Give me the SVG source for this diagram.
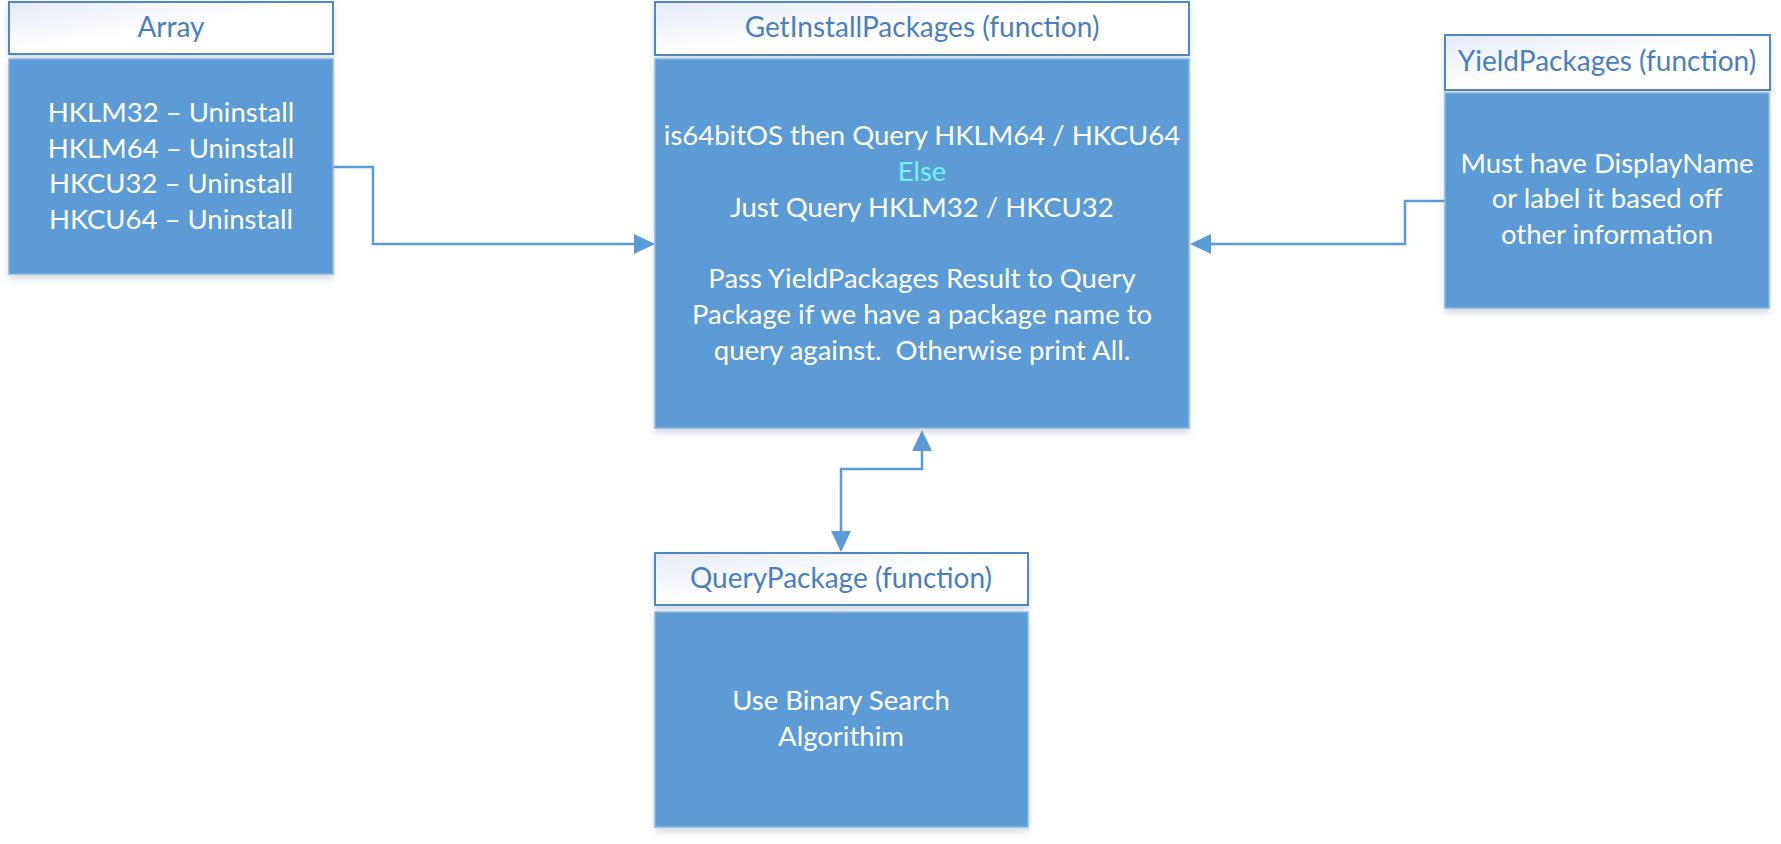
<svg xmlns="http://www.w3.org/2000/svg" width="1781" height="844" viewBox="0 0 1781 844">
<defs>
<linearGradient id="hdrGrad" x1="0" y1="0" x2="1" y2="1">
<stop offset="0" stop-color="#e4eaf5"/>
<stop offset="0.5" stop-color="#ffffff"/>
<stop offset="1" stop-color="#ffffff"/>
</linearGradient>
<filter id="shadow" x="-5%" y="-5%" width="110%" height="115%">
<feDropShadow dx="0" dy="4" stdDeviation="3" flood-color="#6a7c90" flood-opacity="0.28"/>
</filter>
<marker id="arrow" viewBox="0 0 21 20" refX="18" refY="10" markerWidth="21" markerHeight="20" markerUnits="userSpaceOnUse" orient="auto-start-reverse">
<path d="M0,0 L21,10 L0,20 z" fill="#5b9bd5"/>
</marker>
<style>
.hdr{fill:url(#hdrGrad);stroke:#4f86c3;stroke-width:2}
.body{fill:#5b9bd5;stroke:#8ab6df;stroke-width:1.5;filter:url(#shadow)}
.htxt{font-family:Lato,"Open Sans","Liberation Sans",sans-serif;font-size:28px;fill:#4a7fbd;text-anchor:middle}
.btxt{font-family:Lato,"Open Sans","Liberation Sans",sans-serif;font-size:27.5px;fill:#ffffff;text-anchor:middle}
.else{fill:#6ff3f3}
.conn{fill:none;stroke:#5b9bd5;stroke-width:2.5}
</style>
</defs>
<rect width="1781" height="844" fill="#ffffff"/>

<g id="connectors">
<path class="conn" d="M333,167 H373 V244 H652" marker-end="url(#arrow)"/>
<path class="conn" d="M1445,201 H1405 V244 H1193" marker-end="url(#arrow)"/>
<path class="conn" d="M922,433 V469 H841 V549" marker-start="url(#arrow)" marker-end="url(#arrow)"/>
</g>

<g id="array">
<rect class="hdr" x="9" y="2" width="324" height="52" filter="url(#shadow)"/>
<text class="htxt" x="171" y="37">Array</text>
<rect class="body" x="9" y="59" width="324" height="215"/>
<text class="btxt" x="171" y="122">HKLM32 – Uninstall</text>
<text class="btxt" x="171" y="158">HKLM64 – Uninstall</text>
<text class="btxt" x="171" y="193">HKCU32 – Uninstall</text>
<text class="btxt" x="171" y="229">HKCU64 – Uninstall</text>
</g>

<g id="getinstallpackages">
<rect class="hdr" x="655" y="2" width="534" height="53" filter="url(#shadow)"/>
<text class="htxt" x="922" y="37">GetInstallPackages (function)</text>
<rect class="body" x="655" y="59" width="534" height="369"/>
<text class="btxt" x="922" y="145">is64bitOS then Query HKLM64 / HKCU64</text>
<text class="btxt else" x="922" y="181">Else</text>
<text class="btxt" x="922" y="217">Just Query HKLM32 / HKCU32</text>
<text class="btxt" x="922" y="288">Pass YieldPackages Result to Query</text>
<text class="btxt" x="922" y="324">Package if we have a package name to</text>
<text class="btxt" x="922" y="360" xml:space="preserve">query against.  Otherwise print All.</text>
</g>

<g id="yieldpackages">
<rect class="hdr" x="1445" y="35" width="325" height="55" filter="url(#shadow)"/>
<text class="htxt" x="1607" y="71">YieldPackages (function)</text>
<rect class="body" x="1445" y="93" width="324" height="215"/>
<text class="btxt" x="1607" y="173">Must have DisplayName</text>
<text class="btxt" x="1607" y="208">or label it based off</text>
<text class="btxt" x="1607" y="244">other information</text>
</g>

<g id="querypackage">
<rect class="hdr" x="655" y="553" width="373" height="52" filter="url(#shadow)"/>
<text class="htxt" x="841" y="588">QueryPackage (function)</text>
<rect class="body" x="655" y="612" width="373" height="215"/>
<text class="btxt" x="841" y="710">Use Binary Search</text>
<text class="btxt" x="841" y="746">Algorithim</text>
</g>
</svg>
